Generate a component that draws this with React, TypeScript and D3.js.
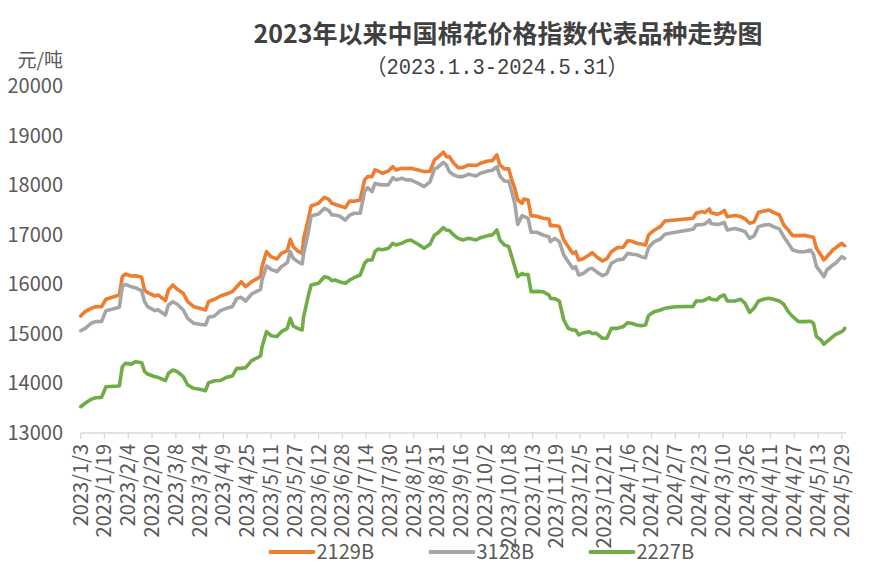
import React from 'react';
import * as d3 from 'd3';

// 交易日
const dates = [
  '2023-01-03', '2023-01-06', '2023-01-10', '2023-01-13', '2023-01-17', '2023-01-20', '2023-01-29', '2023-01-31',
  '2023-02-02', '2023-02-06', '2023-02-09', '2023-02-13', '2023-02-15', '2023-02-17', '2023-02-22', '2023-02-24',
  '2023-03-01', '2023-03-03', '2023-03-06', '2023-03-09', '2023-03-13', '2023-03-16', '2023-03-20', '2023-03-24',
  '2023-03-28', '2023-03-30', '2023-04-03', '2023-04-07', '2023-04-11', '2023-04-15', '2023-04-18', '2023-04-21',
  '2023-04-24', '2023-04-28', '2023-05-04', '2023-05-05', '2023-05-08', '2023-05-11', '2023-05-15', '2023-05-18',
  '2023-05-22', '2023-05-24', '2023-05-26', '2023-05-29', '2023-06-01', '2023-06-02', '2023-06-05', '2023-06-07',
  '2023-06-12', '2023-06-16', '2023-06-19', '2023-06-21', '2023-06-23', '2023-06-26', '2023-06-30', '2023-07-03',
  '2023-07-06', '2023-07-10', '2023-07-13', '2023-07-15', '2023-07-18', '2023-07-20', '2023-07-22', '2023-07-25',
  '2023-07-29', '2023-08-01', '2023-08-03', '2023-08-07', '2023-08-10', '2023-08-13', '2023-08-18', '2023-08-22',
  '2023-08-26', '2023-08-29', '2023-08-31', '2023-09-04', '2023-09-06', '2023-09-08', '2023-09-11', '2023-09-14',
  '2023-09-17', '2023-09-21', '2023-09-26', '2023-09-29', '2023-10-04', '2023-10-07', '2023-10-10', '2023-10-12',
  '2023-10-15', '2023-10-18', '2023-10-20', '2023-10-22', '2023-10-24', '2023-10-27', '2023-10-28', '2023-10-31',
  '2023-11-02', '2023-11-06', '2023-11-10', '2023-11-14', '2023-11-15', '2023-11-18', '2023-11-21', '2023-11-24',
  '2023-11-27', '2023-11-30', '2023-12-02', '2023-12-04', '2023-12-07', '2023-12-11', '2023-12-13', '2023-12-16',
  '2023-12-20', '2023-12-23', '2023-12-26', '2023-12-30', '2024-01-03', '2024-01-06', '2024-01-09', '2024-01-12',
  '2024-01-15', '2024-01-18', '2024-01-20', '2024-01-22', '2024-01-24', '2024-01-28', '2024-01-31', '2024-02-07',
  '2024-02-19', '2024-02-21', '2024-02-25', '2024-02-27', '2024-03-01', '2024-03-02', '2024-03-06', '2024-03-08',
  '2024-03-11', '2024-03-13', '2024-03-18', '2024-03-22', '2024-03-25', '2024-03-28', '2024-03-31', '2024-04-03',
  '2024-04-07', '2024-04-10', '2024-04-13', '2024-04-17', '2024-04-20', '2024-04-23', '2024-04-26', '2024-04-30',
  '2024-05-04', '2024-05-08', '2024-05-10', '2024-05-12', '2024-05-15', '2024-05-17', '2024-05-19', '2024-05-23',
  '2024-05-25', '2024-05-29', '2024-05-30', '2024-05-31',
];

const values2129B = [
  15362, 15450, 15517, 15550, 15550, 15700, 15786, 16156,
  16210, 16170, 16175, 16143, 15887, 15833, 15766, 15790,
  15671, 15887, 15988, 15900, 15820, 15651, 15550, 15517,
  15483, 15651, 15700, 15766, 15806, 15853, 15954, 16055,
  15954, 16055, 16156, 16358, 16661, 16560, 16513, 16627,
  16681, 16910, 16762, 16675, 16627, 16930, 17300, 17583,
  17637, 17758, 17718, 17637, 17618, 17590, 17550, 17685,
  17680, 17705, 18110, 18177, 18177, 18312, 18290, 18244,
  18290, 18378, 18312, 18345, 18340, 18345, 18312, 18277,
  18285, 18514, 18560, 18668, 18580, 18580, 18446, 18358,
  18358, 18412, 18400, 18446, 18493, 18500, 18614, 18412,
  18332, 18332, 18110, 17942, 17705, 17637, 17725, 17705,
  17389, 17375, 17335, 17320, 17187, 17190, 17167, 16897,
  16762, 16627, 16660, 16493, 16520, 16594, 16640, 16560,
  16473, 16520, 16661, 16742, 16750, 16883, 16870, 16830,
  16815, 16796, 16998, 17052, 17098, 17167, 17280, 17300,
  17335, 17436, 17470, 17450, 17524, 17450, 17415, 17430,
  17495, 17368, 17390, 17370, 17322, 17234, 17260, 17456,
  17483, 17503, 17456, 17402, 17200, 17098, 16985, 16985,
  16990, 16964, 16950, 16728, 16594, 16493, 16560, 16695,
  16740, 16830, 16800, 16782,
];

const values3128B = [
  15065, 15113, 15215, 15248, 15250, 15470, 15537, 15954,
  16002, 15954, 15930, 15873, 15651, 15550, 15470, 15490,
  15382, 15584, 15651, 15600, 15483, 15315, 15215, 15195,
  15180, 15336, 15362, 15470, 15517, 15550, 15718, 15740,
  15665, 15806, 15900, 16089, 16372, 16305, 16257, 16358,
  16440, 16661, 16527, 16459, 16412, 16627, 17031, 17380,
  17422, 17537, 17490, 17402, 17402, 17380, 17300, 17400,
  17436, 17436, 17873, 17954, 17873, 18042, 18020, 18010,
  18010, 18156, 18110, 18143, 18110, 18110, 18042, 17974,
  18070, 18332, 18358, 18466, 18412, 18277, 18210, 18177,
  18177, 18224, 18190, 18244, 18290, 18305, 18378, 18190,
  18089, 18080, 17873, 17637, 17213, 17389, 17375, 17335,
  17052, 17052, 16998, 16964, 16863, 16930, 16863, 16594,
  16459, 16325, 16358, 16190, 16220, 16311, 16325, 16257,
  16176, 16220, 16426, 16493, 16510, 16627, 16610, 16600,
  16560, 16540, 16742, 16810, 16863, 16917, 17012, 17052,
  17112, 17200, 17210, 17220, 17300, 17230, 17210, 17220,
  17250, 17098, 17130, 17100, 17064, 16930, 16980, 17167,
  17200, 17210, 17167, 17120, 16964, 16830, 16695, 16660,
  16660, 16695, 16608, 16358, 16244, 16156, 16291, 16392,
  16430, 16560, 16540, 16527,
];

const values2227B = [
  13531, 13600, 13680, 13713, 13720, 13935, 13950, 14339,
  14406, 14390, 14440, 14420, 14238, 14191, 14137, 14125,
  14056, 14205, 14272, 14240, 14137, 13969, 13902, 13885,
  13854, 14016, 14056, 14060, 14123, 14150, 14305, 14305,
  14320, 14460, 14555, 14743, 15046, 14965, 14950, 15046,
  15113, 15315, 15160, 15113, 15080, 15349, 15752, 15988,
  16022, 16156, 16130, 16075, 16089, 16055, 16022, 16089,
  16136, 16190, 16426, 16493, 16493, 16661, 16715, 16700,
  16728, 16830, 16796, 16830, 16877, 16897, 16810, 16728,
  16810, 16998, 17030, 17146, 17098, 17090, 16998, 16930,
  16897, 16930, 16897, 16943, 16985, 17000, 17098, 16897,
  16797, 16762, 16560, 16358, 16156, 16224, 16200, 16200,
  15853, 15860, 15853, 15786, 15719, 15712, 15665, 15282,
  15113, 15080, 15080, 14980, 15020, 15046, 15010, 15013,
  14912, 14912, 15113, 15113, 15147, 15227, 15210, 15180,
  15167, 15180, 15369, 15416, 15450, 15483, 15517, 15550,
  15557, 15665, 15665, 15685, 15732, 15700, 15685, 15752,
  15786, 15665, 15665, 15700, 15618, 15436, 15520, 15665,
  15705, 15720, 15700, 15665, 15600, 15450, 15349, 15248,
  15248, 15255, 15215, 14946, 14879, 14793, 14845, 14946,
  14993, 15046, 15070, 15113,
];

const seriesNames = ['2129B', '3128B', '2227B'];
const seriesColors = ['#ED7D31', '#A5A5A5', '#70AD47'];

const xTickLabels = [
  '2023/1/3', '2023/1/19', '2023/2/4', '2023/2/20', '2023/3/8', '2023/3/24', '2023/4/9', '2023/4/25',
  '2023/5/11', '2023/5/27', '2023/6/12', '2023/6/28', '2023/7/14', '2023/7/30', '2023/8/15', '2023/8/31',
  '2023/9/16', '2023/10/2', '2023/10/18', '2023/11/3', '2023/11/19', '2023/12/5', '2023/12/21', '2024/1/6',
  '2024/1/22', '2024/2/7', '2024/2/23', '2024/3/10', '2024/3/26', '2024/4/11', '2024/4/27', '2024/5/13',
  '2024/5/29',
];
const yTicks = [13000, 14000, 15000, 16000, 17000, 18000, 19000, 20000];

const W = 886;
const H = 582;
const FONT = "'Noto Sans CJK SC', 'Noto Sans', sans-serif";
const TXT = '#595959';

const parseDay = d3.timeParse('%Y-%m-%d');
const parseTick = d3.timeParse('%Y/%m/%d');

export default function App() {
  const x = d3.scaleTime()
    .domain([parseDay('2023-01-03')!, parseDay('2024-06-01')!])
    .range([80.7, 846.2]);
  const y = d3.scaleLinear().domain([13000, 20000]).range([433, 86.3]);

  const allSeries = [values2129B, values3128B, values2227B];
  const line = d3.line<[Date, number]>()
    .x(d => x(d[0]))
    .y(d => y(d[1]))
    .curve(d3.curveLinear);

  const axisY = y(13000);

  return (
    <div style={{ position: 'fixed', left: 0, top: 0 }}>
      <svg width={W} height={H} style={{ display: 'block', background: '#fff' }} fontFamily={FONT}>
        <text x={508} y={43} textAnchor="middle" fontSize={25} fontWeight="bold" fill="#404040">
          2023年以来中国棉花价格指数代表品种走势图
        </text>
        <text x={497} y={74} textAnchor="middle" fontSize={22} fill="#404040"
          textLength={262} lengthAdjust="spacingAndGlyphs"
          fontFamily="'Liberation Mono', 'Noto Sans CJK SC', monospace">
          （2023.1.3-2024.5.31）
        </text>
        <text x={63} y={60} dy="0.35em" textAnchor="end" fontSize={19} fill={TXT}>元/吨</text>

        {yTicks.map(t => (
          <text key={t} x={63} y={y(t)} dy="0.35em" textAnchor="end" fontSize={20} fill={TXT}>{t}</text>
        ))}

        <line x1={x.range()[0]} x2={x.range()[1]} y1={axisY} y2={axisY} stroke="#D9D9D9" strokeWidth={1.3} />
        {xTickLabels.map(lbl => {
          const tx = x(parseTick(lbl)!);
          return (
            <g key={lbl}>
              <line x1={tx} x2={tx} y1={axisY} y2={axisY + 6} stroke="#D9D9D9" strokeWidth={1.3} />
              <text transform={`translate(${tx},${axisY + 11}) rotate(-90)`} textAnchor="end"
                dy="0.35em" fontSize={20} fill={TXT}>{lbl}</text>
            </g>
          );
        })}

        {allSeries.map((vals, i) => {
          const pts: [Date, number][] = dates.map((d, j) => [parseDay(d)!, vals[j]]);
          return (
            <path key={seriesNames[i]} d={line(pts) || ''} fill="none" stroke={seriesColors[i]}
              strokeWidth={3.6} strokeLinejoin="round" strokeLinecap="round" />
          );
        })}

        {seriesNames.map((name, i) => {
          const lx = 270.5 + i * 160;
          return (
            <g key={name}>
              <line x1={lx} x2={lx + 43} y1={552} y2={552} stroke={seriesColors[i]} strokeWidth={4} strokeLinecap="round" />
              <text x={lx + 46} y={552} dy="0.35em" fontSize={20} fill={TXT}>{name}</text>
            </g>
          );
        })}
      </svg>
    </div>
  );
}
